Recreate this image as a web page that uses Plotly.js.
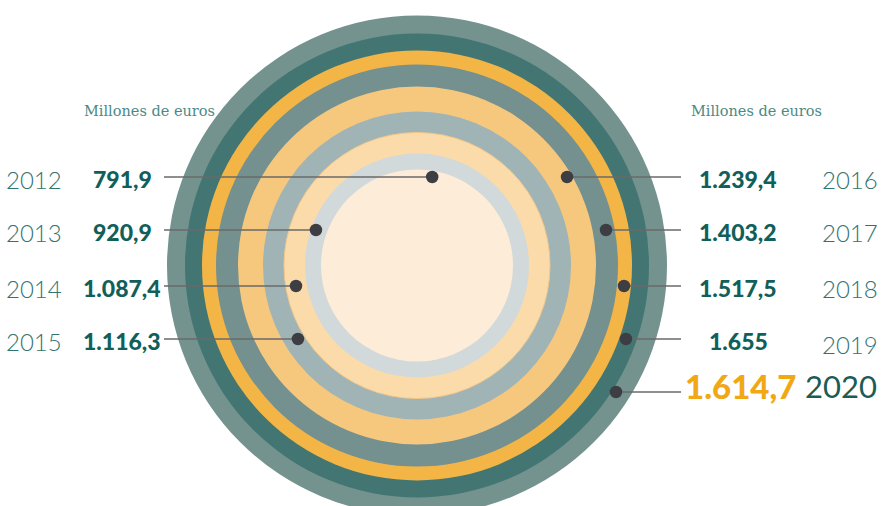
<!DOCTYPE html>
<html>
<head>
<meta charset="utf-8">
<script src="https://cdn.plot.ly/plotly-3.0.1.min.js"></script>
<style>
  html, body { margin: 0; padding: 0; background: #ffffff; }
  #chart { width: 888px; height: 506px; }
</style>
</head>
<body>
<div id="chart"></div>
<script>
// ---- data ----
const years = ['2012', '2013', '2014', '2015', '2016', '2017', '2018', '2019', '2020'];
const values = [791.9, 920.9, 1087.4, 1116.3, 1239.4, 1403.2, 1517.5, 1655, 1614.7];
const unitLabel = 'Millones de euros';

// ---- layout / style constants (pixel geometry of the decorative rings) ----
const W = 888, H = 506;
const cx = 417, cy = 265.5;
const ringR = [96, 112, 133, 154, 179, 201, 215, 232, 250];
const ringColor = ['#fdecd8', '#d1d9da', '#fbdba9', '#a0b4b5', '#f6c87e', '#74908f', '#f3b646', '#437673', '#74938f'];
const dotR = [89.8, 107.1, 122.7, 139.9, 174.2, 192.3, 208, 221.5, 235.8];
const dotSide = [1, -1, -1, -1, 1, 1, 1, 1, 1];
const labelSide = [-1, -1, -1, -1, 1, 1, 1, 1, 1];
const rowY = [177, 230, 286, 339, 177, 230, 286, 339, 392];
const leftLineX = 164, rightLineX = 681;

function fmtES(v) {
  const isInt = Math.abs(v - Math.round(v)) < 1e-9;
  const parts = (isInt ? Math.round(v).toString() : v.toFixed(1)).split('.');
  const intPart = parts[0].replace(/\B(?=(\d{3})+(?!\d))/g, '.');
  return parts.length > 1 ? intPart + ',' + parts[1] : intPart;
}

// rings (largest first)
const shapes = [];
for (let i = ringR.length - 1; i >= 0; i--) {
  const r = ringR[i];
  shapes.push({
    type: 'circle', xref: 'x', yref: 'y', layer: 'below',
    x0: cx - r, x1: cx + r, y0: cy - r, y1: cy + r,
    fillcolor: ringColor[i],
    line: i === 2 ? { color: '#f2c88c', width: 1 } : { width: 0 }
  });
}

// dots & leader lines
const dotX = [], dotY = [], lx = [], ly = [];
years.forEach((y, i) => {
  const dy = rowY[i] - cy;
  const dx = dotSide[i] * Math.sqrt(Math.max(0, dotR[i] * dotR[i] - dy * dy));
  const x = cx + dx;
  dotX.push(x); dotY.push(rowY[i]);
  lx.push(labelSide[i] < 0 ? leftLineX : rightLineX, x, null);
  ly.push(rowY[i], rowY[i], null);
});

const traces = [
  { type: 'scatter', mode: 'lines', x: lx, y: ly, hoverinfo: 'skip',
    line: { color: '#6a6a6a', width: 1.4 } },
  { type: 'scatter', mode: 'markers', x: dotX, y: dotY, hoverinfo: 'skip',
    marker: { size: 12.5, color: '#3d3d44' } }
];

// annotations
const yearColor = '#33736f', valColor = '#115f5a';
const annotations = [];
years.forEach((y, i) => {
  const last = i === years.length - 1;
  if (last) {
    annotations.push({ x: 798, y: 386, xref: 'x', yref: 'y', text: fmtES(values[i]),
      showarrow: false, xanchor: 'right', yanchor: 'middle',
      font: { family: 'Lato', size: 33, color: '#f0a816', weight: 900 } });
    annotations.push({ x: 879, y: 386, xref: 'x', yref: 'y', text: y,
      showarrow: false, xanchor: 'right', yanchor: 'middle',
      font: { family: 'Lato', size: 31, color: '#1b5c58', weight: 400 } });
    return;
  }
  const left = labelSide[i] < 0;
  annotations.push({ x: left ? 122 : 738, y: rowY[i] + 2, xref: 'x', yref: 'y',
    text: fmtES(values[i]), showarrow: false, xanchor: 'center', yanchor: 'middle',
    font: { family: 'Lato', size: 23, color: valColor, weight: 900 } });
  annotations.push({ x: left ? 4 : 880, y: rowY[i] + 2 + (i === 7 ? 3 : 0), xref: 'x', yref: 'y',
    text: y, showarrow: false, xanchor: left ? 'left' : 'right', yanchor: 'middle',
    font: { family: 'Lato', size: 24, color: yearColor, weight: 300 } });
});
[[82, 'left'], [689, 'left']].forEach(([x, a]) => {
  annotations.push({ x: x, y: 111, xref: 'x', yref: 'y', text: unitLabel,
    showarrow: false, xanchor: a, yanchor: 'middle',
    font: { family: 'DejaVu Serif', size: 14.5, color: '#4b8a85' } });
});

const layout = {
  width: W, height: H,
  margin: { l: 0, r: 0, t: 0, b: 0, pad: 0 },
  paper_bgcolor: '#ffffff', plot_bgcolor: '#ffffff',
  showlegend: false,
  xaxis: { range: [0, W], visible: false, fixedrange: true },
  yaxis: { range: [H, 0], visible: false, fixedrange: true },
  shapes: shapes,
  annotations: annotations
};

Plotly.newPlot('chart', traces, layout, { staticPlot: true, displayModeBar: false });
</script>
</body>
</html>
